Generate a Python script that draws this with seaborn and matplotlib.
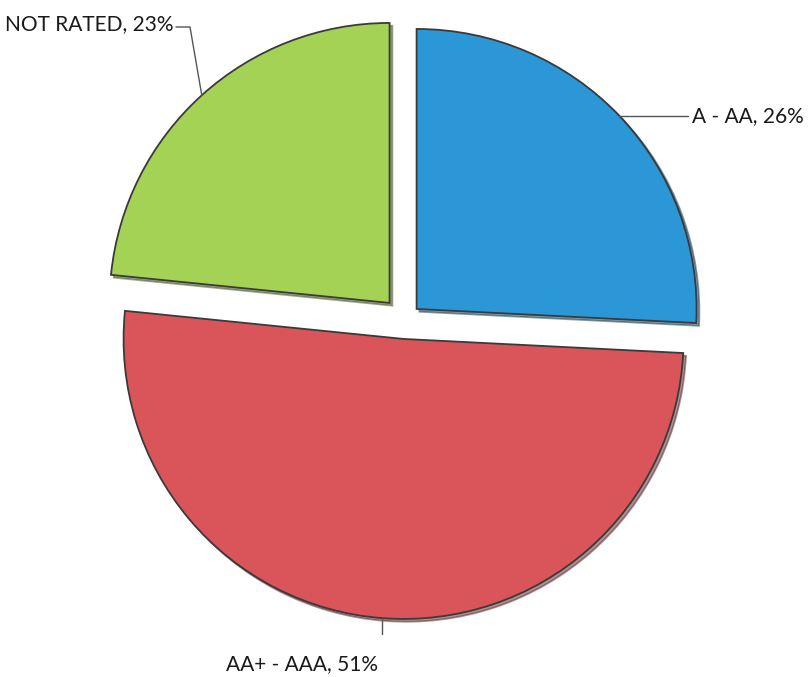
import numpy as np
import matplotlib
matplotlib.use("Agg")
import matplotlib.pyplot as plt
import seaborn as sns

# rating split, clockwise from 12 o'clock (percent)
labels = ["A - AA", "AA+ - AAA", "NOT RATED"]
shares = [25.8, 50.8, 23.4]
colors = ["#2B97D6", "#DA5559", "#A3D254"]

sns.set_theme(style="white")
plt.rcParams["font.family"] = ["Lato", "DejaVu Sans"]

W, H = 809, 677
fig = plt.figure(figsize=(W / 100, H / 100), dpi=100)
ax = fig.add_axes([0, 0, 1, 1])

wedges, _ = ax.pie(
    shares, colors=colors, startangle=90, counterclock=False,
    explode=[16, 19, 23], center=(405, H - 320), radius=280,
    wedgeprops=dict(edgecolor="#3a3a3a", linewidth=1.3),
    shadow=dict(ox=2, oy=-2, shade=0.6),
)
ax.set_xlim(0, W)
ax.set_ylim(0, H)
ax.set_aspect("equal")
ax.axis("off")


def edge_point(w):
    mid = np.deg2rad((w.theta1 + w.theta2) / 2)
    cx, cy = w.center
    return cx + w.r * np.cos(mid), cy + w.r * np.sin(mid)


def label(i):
    return f"{labels[i]}, {round(shares[i])}%"


fs = 15
lc = "#555555"
tc = "#1a1a1a"

# A - AA
px, py = edge_point(wedges[0])
ax.plot([px, 688], [py, py], color=lc, lw=1)
ax.text(692, py, label(0), ha="left", va="center", fontsize=fs, color=tc)

# AA+ - AAA
px, py = edge_point(wedges[1])
ax.plot([px, px], [py, py - 16], color=lc, lw=1)
ax.text(302, H - 664, label(1), ha="center", va="center", fontsize=fs, color=tc)

# NOT RATED
px, py = edge_point(wedges[2])
ax.plot([176, 190, px], [H - 27, H - 27, py], color=lc, lw=1)
ax.text(174, H - 24, label(2), ha="right", va="center", fontsize=fs, color=tc)

fig.savefig("out.png", dpi=100)
